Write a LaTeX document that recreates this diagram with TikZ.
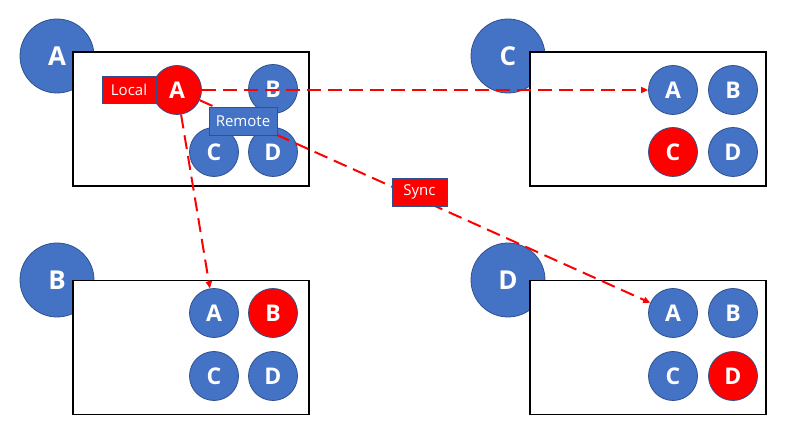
\documentclass[tikz,border=0pt]{standalone}
\usepackage{fontspec}
\setmainfont{Open Sans}
\usetikzlibrary{arrows.meta}
\definecolor{nblue}{HTML}{4472C4}
\definecolor{nedge}{HTML}{2F528F}
\definecolor{nred}{HTML}{FF0000}
\begin{document}
\begin{tikzpicture}[x=1pt,y=-1pt,
 big/.style={circle,draw=nedge,line width=0.8pt,fill=nblue,minimum size=74pt,inner sep=0pt,text=white,font=\bfseries\fontsize{26}{26}\selectfont},
 small/.style={circle,draw=nedge,line width=0.8pt,fill=nblue,minimum size=49pt,inner sep=0pt,text=white,font=\bfseries\fontsize{23}{23}\selectfont},
 hot/.style={small,fill=nred},
 panel/.style={draw=black,line width=1.3pt,fill=white,minimum width=236pt,minimum height=134pt,inner sep=0pt},
 tag/.style={draw=nedge,line width=0.8pt,text=white,font=\fontsize{15}{15}\selectfont,inner sep=0pt},
 syncline/.style={nred,line width=2pt,dash pattern=on 14pt off 7pt,-{Triangle[length=7pt,width=6pt]}}
]
\useasboundingbox (0,0) rectangle (796,438);
% big circles
\node[big] (gA) at (57,56) {A};
\node[big] (gC) at (508,56) {C};
\node[big] (gB) at (57,280) {B};
\node[big] (gD) at (508,280) {D};
% panels
\node[panel] (pA) at (191,119) {};
\node[panel] (pC) at (648,119) {};
\node[panel] (pB) at (191,347.5) {};
\node[panel] (pD) at (648,347.5) {};
% panel A
\node[hot] (aA) at (177,90) {A};
\node[small] (aB) at (273,89) {B};
\node[small] (aC) at (214,152) {C};
\node[small] (aD) at (273,152) {D};
% panel C
\node[small] (cA) at (673,90) {A};
\node[small] (cB) at (733,90) {B};
\node[hot] (cC) at (673,152) {C};
\node[small] (cD) at (733,152) {D};
% panel B
\node[small] (bA) at (214,313) {A};
\node[hot] (bB) at (273,313) {B};
\node[small] (bC) at (214,376) {C};
\node[small] (bD) at (273,376) {D};
% panel D
\node[small] (dA) at (673,313) {A};
\node[small] (dB) at (733,313) {B};
\node[small] (dC) at (673,376) {C};
\node[hot] (dD) at (733,376) {D};
% connectors
\draw[syncline] (aA) -- (cA);
\draw[syncline] (aA) -- (bA);
\draw[syncline] (aA) -- (dA);
% labels
\node[tag,fill=nred,minimum width=54pt,minimum height=27pt] (local) at (129,89.5) {Local};
\node[tag,fill=nblue,minimum width=68pt,minimum height=28pt] (remote) at (243,121) {Remote};
\node[tag,fill=nred,minimum width=55pt,minimum height=28pt] (sync) at (419.5,192) {Sync};
\end{tikzpicture}
\end{document}
